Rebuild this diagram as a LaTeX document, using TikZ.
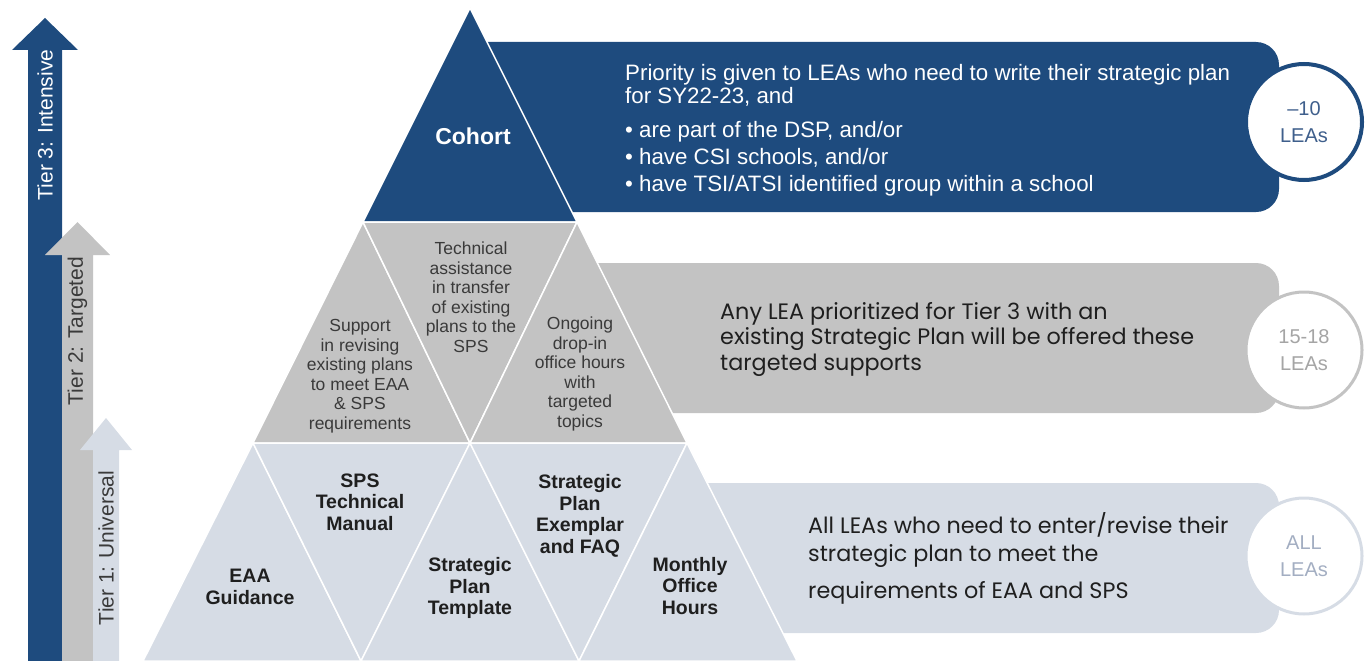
\documentclass[tikz,border=0pt]{standalone}
\usepackage{fontspec}
\setmainfont{Liberation Sans}
\newfontfamily\gothic{Poppins}
\usepackage{xcolor}
\definecolor{vnavy}{HTML}{1E4B7E}
\definecolor{vgray}{HTML}{C3C3C3}
\definecolor{vlight}{HTML}{D6DCE5}
\definecolor{vdark}{HTML}{1F1F1F}
\definecolor{vmid}{HTML}{3A3A3A}
\definecolor{vnavytext}{HTML}{3F5F8C}
\definecolor{vgraytext}{HTML}{A5A5A5}
\definecolor{vlighttext}{HTML}{A3AEC2}

\begin{document}
\begin{tikzpicture}[x=1pt, y=-1pt,
		tri/.style={draw=white, line width=1.5pt, line join=round},
		tiertext/.style={rotate=90, inner sep=0pt, font=\fontsize{21}{23}\selectfont},
		lowtext/.style={align=center, inner sep=0pt, text=vdark, font=\fontsize{19.5}{21.5}\selectfont\bfseries},
		midtext/.style={align=center, inner sep=0pt, text=vmid, font=\fontsize{17.5}{19.5}\selectfont},
		bartext/.style={align=left, inner sep=0pt, anchor=north west},
		leas/.style={circle, fill=white, minimum size=116pt, inner sep=0pt, align=center, font=\fontsize{20}{27}\selectfont}]
	\useasboundingbox (0,0) rectangle (1369,661);

	% tier arrows on the left
	\fill[vnavy] (28,661) -- (28,50) -- (12,50) -- (45,18) -- (78,50) -- (62,50) -- (62,661) -- cycle;
	\fill[vgray] (62,661) -- (62,255) -- (45,255) -- (77.5,222) -- (110,255) -- (93,255) -- (93,661) -- cycle;
	\fill[vlight] (93,661) -- (93,450) -- (80,450) -- (106,418) -- (132,450) -- (119,450) -- (119,661) -- cycle;
	\node[tiertext, text=white] (tier3) at (45,125) {Tier 3: Intensive};
	\node[tiertext, text=vmid] (tier2) at (77.5,331) {Tier 2: Targeted};
	\node[tiertext, text=vmid] (tier1) at (106,548) {Tier 1: Universal};

	% bars behind the pyramid
	\fill[vnavy, rounded corners=23pt] (460,42) rectangle (1279,212);
	\fill[vgray, rounded corners=23pt] (560,263) rectangle (1279,413);
	\fill[vlight, rounded corners=23pt] (650,483) rectangle (1279,633);

	% pyramid
	\coordinate (A) at (470,8);
	\coordinate (L1) at (363,222);
	\coordinate (R1) at (577,222);
	\coordinate (L2) at (253,443);
	\coordinate (M2) at (470,443);
	\coordinate (R2) at (687,443);
	\coordinate (L3) at (143,661);
	\coordinate (P3) at (361,661);
	\coordinate (Q3) at (579,661);
	\coordinate (R3) at (797,661);
	\filldraw[tri, fill=vnavy] (A) -- (L1) -- (R1) -- cycle;
	\filldraw[tri, fill=vgray] (L2) -- (L1) -- (M2) -- cycle;
	\filldraw[tri, fill=vgray] (L1) -- (R1) -- (M2) -- cycle;
	\filldraw[tri, fill=vgray] (M2) -- (R1) -- (R2) -- cycle;
	\filldraw[tri, fill=vlight] (L3) -- (L2) -- (P3) -- cycle;
	\filldraw[tri, fill=vlight] (L2) -- (M2) -- (P3) -- cycle;
	\filldraw[tri, fill=vlight] (P3) -- (M2) -- (Q3) -- cycle;
	\filldraw[tri, fill=vlight] (M2) -- (R2) -- (Q3) -- cycle;
	\filldraw[tri, fill=vlight] (Q3) -- (R2) -- (R3) -- cycle;

	\node[text=white, font=\fontsize{23}{25}\selectfont\bfseries] (cohort) at (473,136) {Cohort};
	\node[midtext] (support) at (360,376) {Support\\in revising\\existing plans\\to meet EAA\\\& SPS\\requirements};
	\node[midtext] (transfer) at (471,297) {Technical\\assistance\\in transfer\\of existing\\plans to the\\SPS};
	\node[midtext] (dropin) at (580,374) {Ongoing\\drop-in\\office hours\\with\\targeted\\topics};
	\node[lowtext] (eaa) at (250,587) {EAA\\Guidance};
	\node[lowtext] (manual) at (360,502) {SPS\\Technical\\Manual};
	\node[lowtext] (template) at (470,588) {Strategic\\Plan\\Template};
	\node[lowtext] (exemplar) at (580,516) {Strategic\\Plan\\Exemplar\\and FAQ};
	\node[lowtext] (monthly) at (690,586) {Monthly\\Office\\Hours};

	% who each tier reaches
	\node[bartext, text=white, font=\fontsize{22.3}{23}\selectfont] (prio) at (625,64)
		{Priority is given to LEAs who need to write their strategic plan\\
		for SY22-23, and\\[11pt]
		• are part of the DSP, and/or\\[4pt]
		• have CSI schools, and/or\\[4pt]
		• have TSI/ATSI identified group within a school};
	\node[bartext, text=vdark, font=\gothic\fontsize{22.3}{25.5}\selectfont] (anylea) at (720,302)
		{Any LEA prioritized for Tier 3 with an\\
		existing Strategic Plan will be offered these\\
		targeted supports};
	\node[bartext, text=vdark, font=\gothic\fontsize{22.3}{28}\selectfont] (alllea) at (808,512)
		{All LEAs who need to enter/revise their\\
		strategic plan to meet the\\[9pt]
		requirements of EAA and SPS};

	\node[leas, draw=vnavy, line width=4pt, text=vnavytext] (n3) at (1304,122) {--10\\LEAs};
	\node[leas, draw=vgray, line width=3pt, text=vgraytext] (n2) at (1304,350) {15-18\\LEAs};
	\node[leas, draw=vlight, line width=3pt, text=vlighttext] (n1) at (1304,556) {ALL\\LEAs};
\end{tikzpicture}
\end{document}
